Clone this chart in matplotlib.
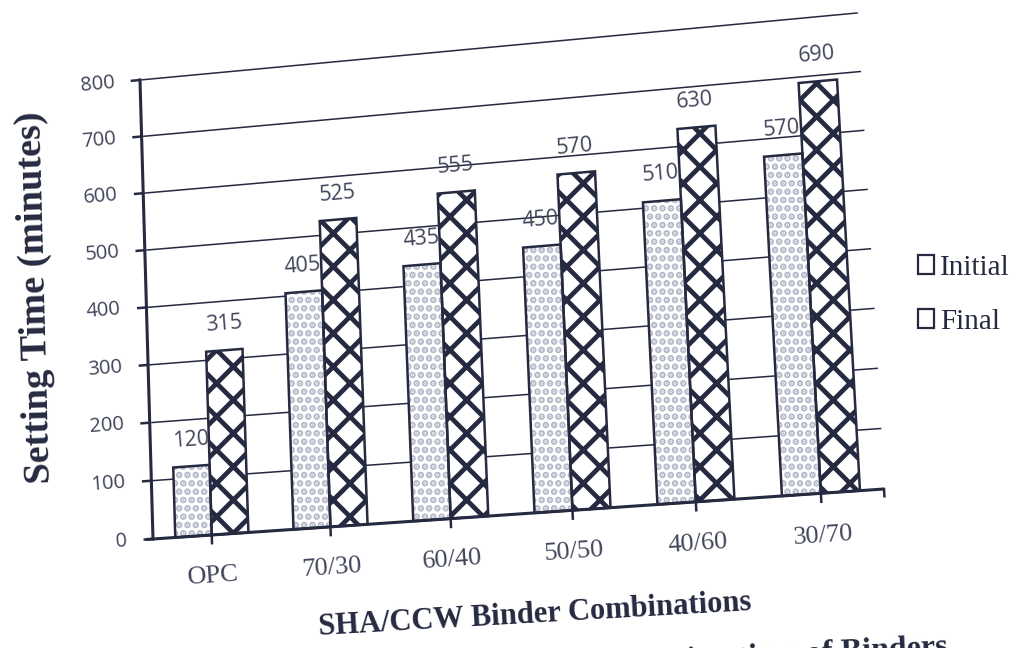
import numpy as np
import matplotlib
matplotlib.use('Agg')
from matplotlib import pyplot as plt
import matplotlib.transforms as mtransforms
from matplotlib.patches import Patch

# Setting time results per binder mix (minutes)
combinations = ['OPC', '70/30', '60/40', '50/50', '40/60', '30/70']
initial_time = [120, 405, 435, 450, 510, 570]
final_time = [315, 525, 555, 570, 630, 690]
y_ticks = [0, 100, 200, 300, 400, 500, 600, 700, 800]

INK = '#262a40'
TEXT = '#41455a'

# hatch line weight is read at draw time, so it is shared by both patterns
plt.rcParams['hatch.linewidth'] = 3.4


class Homography(mtransforms.Transform):
    """Plane projective map from (category, minutes) to page pixels."""
    input_dims = 2
    output_dims = 2
    is_separable = False

    def __init__(self, H):
        super().__init__()
        self.H = np.asarray(H, float)

    def transform_non_affine(self, values):
        values = np.asarray(values, float).reshape(-1, 2)
        pts = np.column_stack([values, np.ones(len(values))]) @ self.H.T
        return pts[:, :2] / pts[:, 2:3]

    def inverted(self):
        return Homography(np.linalg.inv(self.H))


def solve_homography(src, dst):
    A, b = [], []
    for (x, y), (X, Y) in zip(src, dst):
        A.append([x, y, 1, 0, 0, 0, -X * x, -X * y])
        A.append([0, 0, 0, x, y, 1, -Y * x, -Y * y])
        b += [X, Y]
    h = np.linalg.solve(np.array(A, float), np.array(b, float))
    return np.append(h, 1.0).reshape(3, 3)


n = len(combinations)
ymax = y_ticks[-1]
# corners of the plot area on the page (pixels, y down)
H = solve_homography([(0, 0), (n, 0), (0, ymax), (n, ymax)],
                     [(153, 539), (884, 489), (140, 80), (857, 13)])
warp = Homography(H)

fig = plt.figure(figsize=(10.18, 6.48), dpi=100)
ax = fig.add_axes([0, 0, 1, 1])
ax.set_xlim(0, 1018)
ax.set_ylim(648, 0)
ax.axis('off')
T = warp + ax.transData


def local_angle(u, v):
    p = warp.transform(np.array([[u, v], [u + 0.5, v]]))
    d = p[1] - p[0]
    return np.degrees(np.arctan2(-d[1], d[0]))


# gridlines
for t in y_ticks[1:]:
    ax.plot([0.02, n], [t, t], color=INK, lw=1.1, transform=T, zorder=1)

# axes lines and ticks
ax.plot([-0.06, n], [0, 0], color=INK, lw=2.2, transform=T, zorder=4,
        solid_capstyle='butt')
ax.plot([0, 0], [0, ymax], color=INK, lw=2.2, transform=T, zorder=4)
for t in y_ticks:
    ax.plot([-0.07, 0], [t, t], color=INK, lw=1.8, transform=T, zorder=4)
    ax.text(-0.22, t, str(t), ha='right', va='center', fontsize=14.5,
            family='Open Sans', color=TEXT, transform=T,
            rotation=local_angle(-0.22, t), rotation_mode='anchor')
for i in range(n):
    ax.plot([i + 0.5, i + 0.5], [0, -14], color=INK, lw=1.8, transform=T, zorder=4)
ax.plot([n, n], [0, -12], color=INK, lw=1.8, transform=T, zorder=4)

x = np.arange(n) + 0.5
w = 0.31

# Initial: light speckled fill
ax.bar(x - w / 2, initial_time, w, color='white', edgecolor='#b3b7c6',
       hatch='..', linewidth=0, transform=T, zorder=2)
ax.bar(x - w / 2, initial_time, w, color='none', edgecolor=INK, linewidth=1.8,
       transform=T, zorder=3)

# Final: dark diamond lattice
ax.bar(x + w / 2, final_time, w, color='white', edgecolor=INK,
       hatch='x', linewidth=0, transform=T, zorder=2)
ax.bar(x + w / 2, final_time, w, color='none', edgecolor=INK, linewidth=1.8,
       transform=T, zorder=3)

# value labels
for xi, v in zip(x - w / 2, initial_time):
    ax.text(xi, v + 45, str(v), ha='center', va='center', fontsize=15.5,
            family='Open Sans', color=TEXT, transform=T,
            rotation=local_angle(xi, v), rotation_mode='anchor', zorder=5)
for xi, v in zip(x + w / 2, final_time):
    ax.text(xi, v + 45, str(v), ha='center', va='center', fontsize=15.5,
            family='Open Sans', color=TEXT, transform=T,
            rotation=local_angle(xi, v), rotation_mode='anchor', zorder=5)

# category labels
for xi, lab in zip(x, combinations):
    ax.text(xi, -70, lab, ha='center', va='center', fontsize=19,
            family='Liberation Serif', color=TEXT, transform=T,
            rotation=local_angle(xi, 0), rotation_mode='anchor')

ax.text(535, 615, 'SHA/CCW Binder Combinations', ha='center', va='center',
        fontsize=22, family='Liberation Serif', fontweight='bold', color=INK,
        rotation=3.3, rotation_mode='anchor')
ax.text(36, 297, 'Setting Time (minutes)', ha='center', va='center',
        fontsize=27.5, family='Liberation Serif', fontweight='bold', color=INK,
        rotation=91.5, rotation_mode='anchor')
ax.text(948, 655, 'Fig. 4 Initial and Final Setting time of Binders',
        ha='right', va='baseline', fontsize=23, family='Liberation Serif',
        fontweight='bold', color=INK, rotation=3.0, rotation_mode='anchor')

handles = [Patch(facecolor='white', edgecolor=INK, linewidth=1.6, label='Initial'),
           Patch(facecolor='white', edgecolor=INK, linewidth=1.6, label='Final')]
ax.legend(handles=handles, loc='center left', bbox_to_anchor=(0.876, 0.545),
          frameon=False, handlelength=0.55, handleheight=0.6, handletextpad=0.2,
          labelspacing=0.95, prop={'family': 'Liberation Serif', 'size': 21},
          labelcolor=INK)

fig.savefig('out.png', dpi=100)
